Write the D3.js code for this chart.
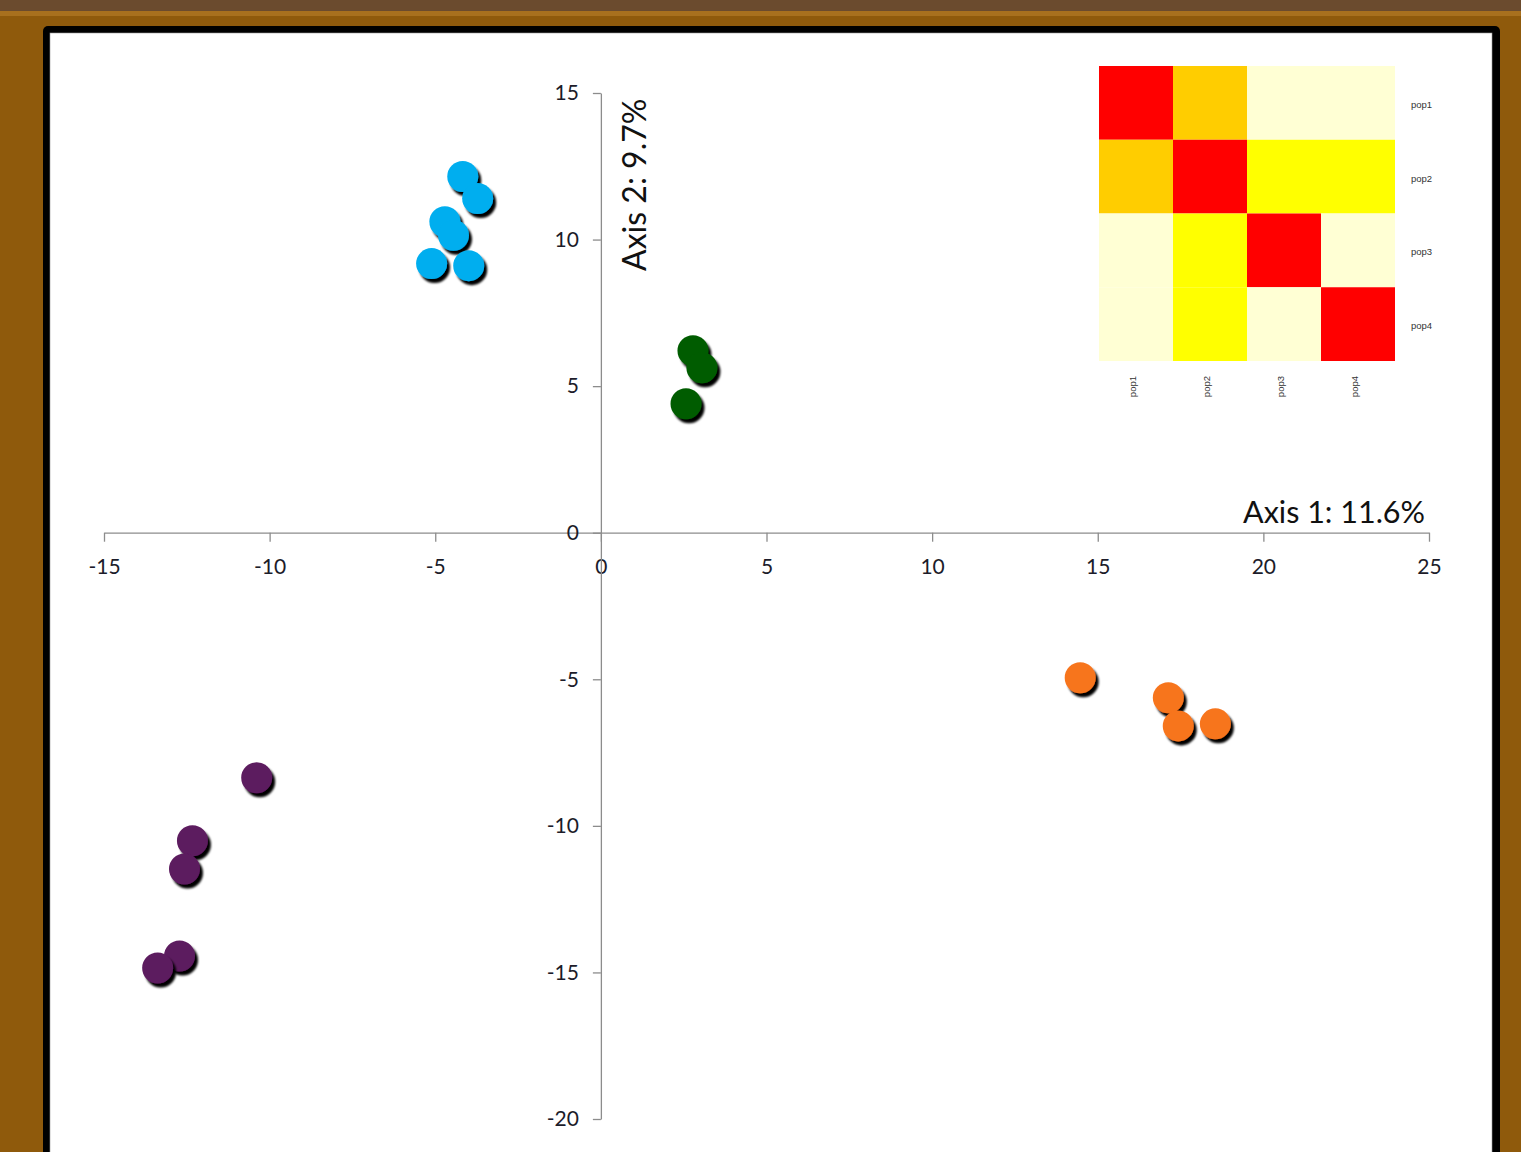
<!DOCTYPE html>
<html>
<head>
<meta charset="utf-8">
<script src="https://cdn.jsdelivr.net/npm/d3@7/dist/d3.min.js"></script>
<style>
  html, body { margin: 0; padding: 0; background: #8f5a0c; }
  svg { display: block; }
</style>
</head>
<body>
<svg id="chart" width="1521" height="1152"></svg>
<script>
// PCoA scores per population (Axis 1, Axis 2)
const popNames = ["pop1", "pop2", "pop3", "pop4"];
const pop1Points = [[-4.17, 12.15], [-3.72, 11.40], [-4.71, 10.61], [-4.45, 10.15], [-5.11, 9.18], [-3.99, 9.11]];
const pop2Points = [[2.78, 6.21], [3.05, 5.63], [2.57, 4.40]];
const pop3Points = [[14.47, -4.95], [17.13, -5.63], [17.43, -6.59], [18.55, -6.52]];
const pop4Points = [[-10.39, -8.36], [-12.33, -10.51], [-12.57, -11.47], [-12.72, -14.44], [-13.38, -14.85]];
const popColors = ["#00aeef", "#005c00", "#f7741e", "#5c1a5e"];

const xTicks = [-15, -10, -5, 0, 5, 10, 15, 20, 25];
const yTicks = [15, 10, 5, 0, -5, -10, -15, -20];

// Pairwise similarity between populations (rows/cols = popNames)
const heatRows = [
  [1.0, 0.7, 0.0, 0.0],
  [0.7, 1.0, 0.4, 0.4],
  [0.0, 0.4, 1.0, 0.0],
  [0.0, 0.4, 0.0, 1.0]
];

const svg = d3.select("#chart");

// Frame: wood background with a black-bordered white panel
svg.append("rect").attr("x", 0).attr("y", 0).attr("width", 1521).attr("height", 1152).attr("fill", "#8f5a0c");
svg.append("rect").attr("x", 0).attr("y", 0).attr("width", 1521).attr("height", 11).attr("fill", "#6b4b2e");
svg.append("rect").attr("x", 0).attr("y", 11).attr("width", 1521).attr("height", 5).attr("fill", "#a8701e");
svg.append("rect").attr("x", 43).attr("y", 26).attr("width", 1457).attr("height", 1160).attr("rx", 5).attr("fill", "#000");
svg.append("rect").attr("x", 50).attr("y", 33).attr("width", 1442).attr("height", 1150).attr("fill", "#fff").attr("stroke", "#999").attr("stroke-width", 0.6);

const x = d3.scaleLinear().domain([-15, 25]).range([104, 1429]);
const y = d3.scaleLinear().domain([-20, 15]).range([1119, 93]);

const tickFont = "Lato, 'Open Sans', sans-serif";
const axisColor = "#8c8c8c";
const textColor = "#1c1c2a";
const fmt = d => String(d); // plain hyphen-minus

// X axis along y = 0
const xAxis = svg.append("g")
  .attr("transform", `translate(0,${y(0)})`)
  .call(d3.axisBottom(x).tickValues(xTicks).tickFormat(fmt).tickSize(9).tickPadding(17).tickSizeOuter(0));
xAxis.select(".domain").attr("stroke", axisColor).attr("stroke-width", 1.3);
xAxis.selectAll(".tick line").attr("stroke", axisColor).attr("stroke-width", 1.3);
xAxis.selectAll(".tick text").attr("font-family", tickFont).attr("font-size", 21).attr("fill", textColor);

// Y axis along x = 0
const yAxis = svg.append("g")
  .attr("transform", `translate(${x(0)},0)`)
  .call(d3.axisLeft(y).tickValues(yTicks).tickFormat(fmt).tickSize(8).tickPadding(14).tickSizeOuter(0));
yAxis.select(".domain").attr("stroke", axisColor).attr("stroke-width", 1.3);
yAxis.selectAll(".tick line").attr("stroke", axisColor).attr("stroke-width", 1.3);
yAxis.selectAll(".tick text").attr("font-family", tickFont).attr("font-size", 21).attr("fill", textColor);

// Axis titles
svg.append("text")
  .attr("x", 1425).attr("y", 523)
  .attr("text-anchor", "end")
  .attr("font-family", tickFont).attr("font-size", 30.5).attr("fill", "#111")
  .text("Axis 1: 11.6%");
svg.append("text")
  .attr("transform", `translate(646,271) rotate(-90)`)
  .attr("text-anchor", "start")
  .attr("font-family", tickFont).attr("font-size", 32).attr("fill", "#111")
  .text("Axis 2: 9.7%");

// Drop shadow for markers
const defs = svg.append("defs");
const f = defs.append("filter").attr("id", "shadow").attr("x", "-50%").attr("y", "-50%").attr("width", "200%").attr("height", "200%");
f.append("feDropShadow").attr("dx", 3).attr("dy", 4).attr("stdDeviation", 1.2).attr("flood-color", "#000").attr("flood-opacity", 1);

// Points
const groups = [pop1Points, pop2Points, pop3Points, pop4Points];
groups.forEach((pts, i) => {
  svg.append("g").selectAll("circle")
    .data(pts)
    .join("circle")
    .attr("cx", d => x(d[0]))
    .attr("cy", d => y(d[1]))
    .attr("r", 15.5)
    .attr("fill", popColors[i])
    .attr("filter", "url(#shadow)");
});

// Heatmap inset
const hx = d3.scaleBand().domain(popNames).range([1099, 1395]);
const hy = d3.scaleBand().domain(popNames).range([66, 361]);
const heatColor = d3.scaleThreshold().domain([0.2, 0.55, 0.85]).range(["#ffffd4", "#ffff00", "#ffcd00", "#ff0000"]);

const cells = [];
heatRows.forEach((row, r) => row.forEach((v, c) => cells.push({ r: popNames[r], c: popNames[c], v })));
svg.append("g").selectAll("rect")
  .data(cells)
  .join("rect")
  .attr("x", d => hx(d.c))
  .attr("y", d => hy(d.r))
  .attr("width", hx.bandwidth())
  .attr("height", hy.bandwidth())
  .attr("fill", d => heatColor(d.v));

svg.append("g").selectAll("text")
  .data(popNames)
  .join("text")
  .attr("x", 1411)
  .attr("y", d => hy(d) + hy.bandwidth() / 2 + 5)
  .attr("font-family", "'Liberation Sans', Arial, sans-serif")
  .attr("font-size", 9.5).attr("fill", "#333")
  .text(d => d);

svg.append("g").selectAll("text")
  .data(popNames)
  .join("text")
  .attr("transform", d => `translate(${hx(d) + hx.bandwidth() / 2},376) rotate(-90)`)
  .attr("text-anchor", "end")
  .attr("font-family", "'Liberation Sans', Arial, sans-serif")
  .attr("font-size", 9.5).attr("fill", "#333")
  .text(d => d);
</script>
</body>
</html>
